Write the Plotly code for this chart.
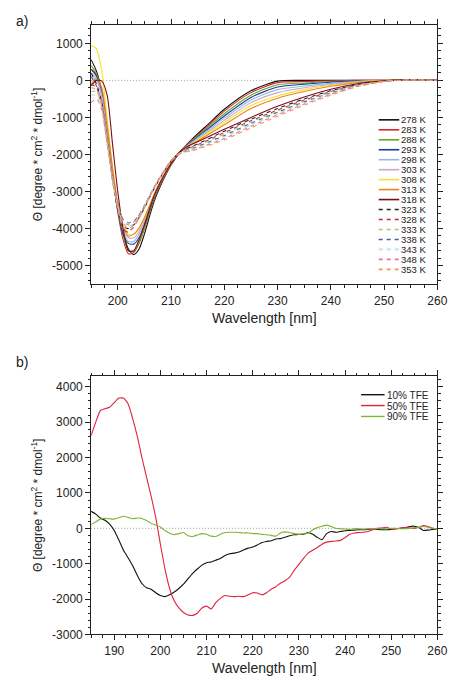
import plotly.graph_objects as go

# ---------------- Panel a data: temperature series ----------------
wavelength_a = [195, 196, 197, 198, 199, 200, 201, 202, 203, 204, 205, 206, 207, 208,
                210, 212, 214, 217, 220, 225, 230, 235, 240, 245, 250, 255, 260]

theta_278 = [560, 250, -300, -1300, -2400, -3400, -4100, -4550, -4700, -4550, -4150, -3650, -3200, -2850,
             -2280, -1880, -1580, -1180, -780, -280, -20, 0, 0, 0, 0, 20, 0]
theta_283 = [300, 150, -350, -1400, -2550, -3550, -4300, -4680, -4650, -4400, -4000, -3550, -3150, -2820,
             -2270, -1880, -1600, -1220, -830, -330, -60, -30, -10, 0, 0, 20, 0]
theta_288 = [400, 180, -320, -1350, -2500, -3500, -4200, -4600, -4620, -4380, -3980, -3530, -3120, -2800,
             -2260, -1880, -1620, -1260, -900, -400, -120, -70, -30, -10, 0, 20, 0]
theta_293 = [300, 120, -350, -1400, -2550, -3500, -4150, -4400, -4420, -4250, -3900, -3480, -3100, -2780,
             -2250, -1880, -1640, -1300, -960, -460, -180, -100, -50, -20, 0, 20, 0]
theta_298 = [200, 50, -400, -1450, -2550, -3450, -4050, -4350, -4350, -4150, -3820, -3430, -3070, -2760,
             -2240, -1880, -1660, -1340, -1020, -530, -250, -150, -80, -30, 0, 20, 0]
theta_303 = [100, 0, -450, -1450, -2500, -3400, -3950, -4250, -4250, -4080, -3770, -3400, -3050, -2740,
             -2230, -1880, -1680, -1380, -1080, -600, -330, -200, -110, -40, 0, 20, 0]
theta_308 = [950, 850, 250, -1000, -2300, -3300, -3900, -4150, -4150, -4000, -3720, -3370, -3030, -2730,
             -2230, -1880, -1700, -1420, -1140, -680, -420, -250, -130, -50, 0, 20, 0]
theta_313 = [-100, 50, -200, -1200, -2350, -3350, -3950, -4200, -4150, -3980, -3700, -3360, -3020, -2720,
             -2230, -1880, -1720, -1460, -1200, -760, -480, -300, -160, -60, 0, 20, 0]
theta_318 = [-150, 0, -20, -400, -1700, -3000, -4000, -4600, -4600, -4300, -3900, -3450, -3050, -2750,
             -2250, -1880, -1720, -1520, -1320, -1000, -700, -450, -240, -90, -10, 20, 0]
theta_323 = [200, -100, -600, -1600, -2600, -3450, -3950, -4000, -3900, -3700, -3450, -3150, -2880, -2620,
             -2180, -1900, -1780, -1580, -1370, -1050, -760, -500, -280, -110, -15, 20, 0]
theta_328 = [-100, -200, -700, -1700, -2700, -3500, -4000, -4100, -3950, -3700, -3420, -3120, -2850, -2600,
             -2170, -1900, -1800, -1610, -1410, -1090, -800, -530, -300, -120, -20, 15, 0]
theta_333 = [-300, -300, -700, -1650, -2650, -3450, -3950, -4050, -3950, -3720, -3450, -3150, -2870, -2610,
             -2170, -1920, -1820, -1640, -1450, -1120, -830, -560, -320, -130, -20, 15, 0]
theta_338 = [100, -150, -600, -1550, -2550, -3300, -3750, -3850, -3800, -3620, -3380, -3100, -2840, -2600,
             -2170, -1930, -1840, -1670, -1490, -1160, -860, -580, -340, -140, -25, 15, 0]
theta_343 = [-400, -400, -750, -1700, -2650, -3400, -3850, -3950, -3850, -3650, -3400, -3120, -2850, -2600,
             -2170, -1940, -1860, -1700, -1530, -1200, -900, -610, -360, -150, -25, 10, 0]
theta_348 = [-600, -500, -800, -1700, -2600, -3350, -3800, -3900, -3820, -3630, -3390, -3110, -2850, -2600,
             -2170, -1950, -1880, -1730, -1570, -1240, -930, -640, -380, -160, -30, 10, 0]
theta_353 = [-200, -250, -650, -1600, -2550, -3350, -3850, -4000, -3900, -3680, -3420, -3130, -2860, -2610,
             -2180, -1960, -1900, -1760, -1610, -1280, -970, -670, -400, -170, -30, 10, 0]

temp_labels = ["278 K", "283 K", "288 K", "293 K", "298 K", "303 K", "308 K", "313 K", "318 K",
               "323 K", "328 K", "333 K", "338 K", "343 K", "348 K", "353 K"]
temp_series = [theta_278, theta_283, theta_288, theta_293, theta_298, theta_303, theta_308, theta_313,
               theta_318, theta_323, theta_328, theta_333, theta_338, theta_343, theta_348, theta_353]
temp_colors = ["#111111", "#d8232f", "#62a823", "#1c3d9c", "#93b9e2", "#c9a6c6", "#f2e42a", "#ef8222",
               "#7a0c1c", "#222222", "#c8283e", "#b6c47a", "#4562a2", "#b4e0e2", "#e27aa4", "#f2995a"]
temp_dash = ["solid"] * 9 + ["4px,4px"] * 7

# ---------------- Panel b data: TFE series ----------------
wavelength_b = list(range(185, 261))

theta_tfe10 = [480, 400, 290, 230, 120, -60, -330, -620, -830, -1060,
               -1330, -1560, -1680, -1720, -1820, -1900, -1930, -1880, -1800, -1700,
               -1580, -1420, -1270, -1150, -1040, -970, -950, -900, -850, -770,
               -720, -700, -670, -610, -560, -530, -470, -400, -370, -350,
               -300, -290, -250, -210, -180, -170, -170, -120, -170, -260,
               -320, -150, -90, -110, -90, -70, -60, -50, -40, -40,
               -30, -20, -30, -40, -40, -30, -10, 0, 20, 50,
               60, 20, -60, -50, -30, -10]
theta_tfe50 = [2620, 3000, 3330, 3380, 3420, 3550, 3680, 3680, 3520, 3100,
               2600, 2000, 1450, 900, 300, -450, -1150, -1700, -2050, -2250,
               -2380, -2450, -2460, -2400, -2250, -2200, -2280, -2100, -1980, -1900,
               -1920, -1930, -1920, -1930, -1880, -1820, -1830, -1880, -1820, -1720,
               -1650, -1550, -1480, -1380, -1180, -1020, -850, -700, -620, -540,
               -450, -390, -370, -360, -340, -260, -170, -130, -120, -110,
               -90, -40, -10, 10, 30, -20, -20, 10, 20, 10,
               0, 30, 80, 50, 0, -20]
theta_tfe90 = [110, 180, 260, 280, 270, 260, 300, 340, 310, 270,
               290, 280, 220, 140, 90, 40, -60, -140, -180, -150,
               -120, -210, -230, -190, -150, -170, -220, -230, -170, -120,
               -110, -110, -120, -130, -130, -150, -150, -170, -180, -200,
               -220, -130, -100, -120, -150, -170, -160, -140, -40, 20,
               60, 90, 50, 0, -10, -20, -30, -10, -10, -20,
               -10, -10, 0, 0, -10, 0, 0, -10, -10, 0,
               20, 30, 50, 30, 0, -10]

tfe_labels = ["10% TFE", "50% TFE", "90% TFE"]
tfe_series = [theta_tfe10, theta_tfe50, theta_tfe90]
tfe_colors = ["#111111", "#e0223f", "#82b332"]

# tick labels (hyphen minus as in the original)
ticks_a_y = [1000, 0, -1000, -2000, -3000, -4000, -5000]
ticks_b_y = [4000, 3000, 2000, 1000, 0, -1000, -2000, -3000]
ticks_a_x = [200, 210, 220, 230, 240, 250, 260]
ticks_b_x = [190, 200, 210, 220, 230, 240, 250, 260]

# ---------------- figure ----------------
W, H = 457, 680
FONT = "Liberation Sans, Arial, sans-serif"


def fx(p):
    return p / W


def fy(p):
    return 1 - p / H


fig = go.Figure()

for lab, vals, col, dsh in zip(temp_labels, temp_series, temp_colors, temp_dash):
    fig.add_trace(go.Scatter(x=wavelength_a, y=vals, mode="lines", name=lab, showlegend=False,
                             line=dict(color=col, width=1.1, dash=dsh, shape="spline", smoothing=0.7),
                             xaxis="x", yaxis="y"))

for lab, vals, col in zip(tfe_labels, tfe_series, tfe_colors):
    fig.add_trace(go.Scatter(x=wavelength_b, y=vals, mode="lines", name=lab, showlegend=False,
                             line=dict(color=col, width=1.1, shape="spline", smoothing=0.5),
                             xaxis="x2", yaxis="y2"))

axis_common = dict(showline=True, linecolor="#222", linewidth=1, mirror="allticks", ticks="outside",
                   ticklen=5, tickwidth=1, tickcolor="#222", showgrid=False, zeroline=False,
                   tickfont=dict(family=FONT, size=12, color="#222"))
minor_common = dict(ticklen=2.5, ticks="outside", tickcolor="#222", showgrid=False)

xdom = [fx(85), fx(439)]
ytitle = "Θ [degree * cm<sup>2</sup> * dmol<sup>-1</sup>]"

fig.update_layout(
    width=W, height=H, margin=dict(l=0, r=0, t=0, b=0),
    paper_bgcolor="white", plot_bgcolor="white", showlegend=False,
    font=dict(family=FONT, color="#222"),
    xaxis=dict(domain=xdom, range=[195, 260], anchor="y", tickvals=ticks_a_x,
               ticktext=[str(v) for v in ticks_a_x],
               minor=dict(dtick=2.5, tick0=195, **minor_common),
               title=dict(text="Wavelength [nm]", font=dict(family=FONT, size=14), standoff=6),
               **axis_common),
    yaxis=dict(domain=[fy(279), fy(17)], range=[-5500, 1500], anchor="x", tickvals=ticks_a_y,
               ticktext=[str(v) for v in ticks_a_y],
               minor=dict(dtick=200, tick0=0, **minor_common),
               title=dict(text=ytitle, font=dict(family=FONT, size=12), standoff=6),
               **axis_common),
    xaxis2=dict(domain=xdom, range=[185, 260], anchor="y2", tickvals=ticks_b_x,
                ticktext=[str(v) for v in ticks_b_x],
                minor=dict(dtick=2.5, tick0=185, **minor_common),
                title=dict(text="Wavelength [nm]", font=dict(family=FONT, size=14), standoff=6),
                **axis_common),
    yaxis2=dict(domain=[fy(633), fy(372)], range=[-3000, 4300], anchor="x2", tickvals=ticks_b_y,
                ticktext=[str(v) for v in ticks_b_y],
                minor=dict(dtick=200, tick0=0, **minor_common),
                title=dict(text=ytitle, font=dict(family=FONT, size=12), standoff=6),
                **axis_common),
)

shapes = []
annotations = []

# dotted zero lines
for xr, yr in (("x domain", "y"), ("x2 domain", "y2")):
    shapes.append(dict(type="line", xref=xr, yref=yr, x0=0, x1=1, y0=0, y1=0,
                       line=dict(color="#a0a0a0", width=1, dash="1px,2px"), layer="below"))

# legend a (drawn manually to match the compact spacing)
for i, (lab, col, dsh) in enumerate(zip(temp_labels, temp_colors, temp_dash)):
    yy = fy(113 + i * 10.07)
    shapes.append(dict(type="line", xref="paper", yref="paper", x0=fx(379), x1=fx(400), y0=yy, y1=yy,
                       line=dict(color=col, width=1.6, dash=dsh)))
    annotations.append(dict(xref="paper", yref="paper", x=fx(401), y=yy, text=lab, showarrow=False,
                            xanchor="left", yanchor="middle", height=9, borderpad=0,
                            font=dict(family=FONT, size=9.5, color="#222")))

# legend b
for i, (lab, col) in enumerate(zip(tfe_labels, tfe_colors)):
    yy = fy(390.7 + i * 11)
    shapes.append(dict(type="line", xref="paper", yref="paper", x0=fx(361), x1=fx(385), y0=yy, y1=yy,
                       line=dict(color=col, width=1.4)))
    annotations.append(dict(xref="paper", yref="paper", x=fx(386), y=yy, text=lab, showarrow=False,
                            xanchor="left", yanchor="middle", height=10, borderpad=0,
                            font=dict(family=FONT, size=10, color="#222")))

# panel letters
annotations.append(dict(xref="paper", yref="paper", x=fx(6), y=fy(13), text="a)", showarrow=False,
                        xanchor="left", yanchor="middle", font=dict(family=FONT, size=14, color="#222")))
annotations.append(dict(xref="paper", yref="paper", x=fx(6), y=fy(358), text="b)", showarrow=False,
                        xanchor="left", yanchor="middle", font=dict(family=FONT, size=14, color="#222")))

fig.update_layout(shapes=shapes, annotations=annotations)

fig.write_html("out.html")
